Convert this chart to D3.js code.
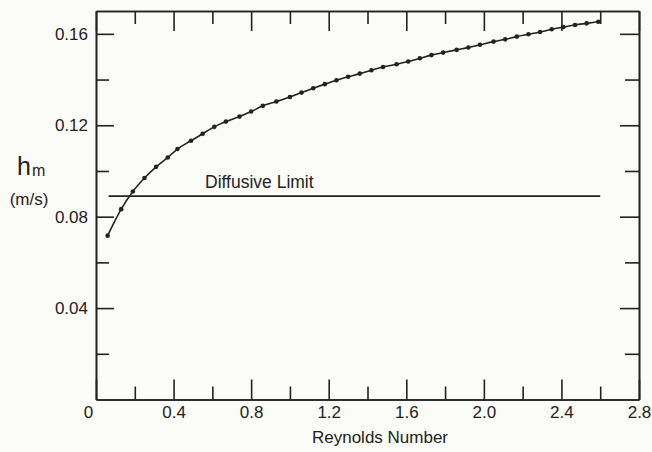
<!DOCTYPE html>
<html>
<head>
<meta charset="utf-8">
<script src="https://cdn.jsdelivr.net/npm/d3@7"></script>
<style>
  body { margin: 0; background: #fbfbf7; }
  svg { display: block; font-family: "Liberation Sans", Arial, sans-serif; }
  .axis path, .axis line { stroke: #222; stroke-width: 1.6; }
  .axis text { font-size: 17px; fill: #222; }
</style>
</head>
<body>
<div id="chart-area"></div>
<script>
// SVG Size
var width = 652,
	height = 452;

// Data
var reynolds = [0.06, 0.13, 0.19, 0.25, 0.31, 0.37, 0.42, 0.49, 0.55, 0.61, 0.67, 0.74,
	0.80, 0.86, 0.93, 1.00, 1.06, 1.12, 1.18, 1.24, 1.30, 1.36, 1.42, 1.48, 1.55, 1.61,
	1.67, 1.73, 1.79, 1.86, 1.92, 1.98, 2.05, 2.11, 2.17, 2.23, 2.29, 2.35, 2.41, 2.47,
	2.53, 2.59];
var hm = [0.0717, 0.0833, 0.0910, 0.0969, 0.1018, 0.1059, 0.1096, 0.1132, 0.1163, 0.1193,
	0.1216, 0.1238, 0.1260, 0.1285, 0.1304, 0.1324, 0.1343, 0.1362, 0.1380, 0.1397,
	0.1412, 0.1426, 0.1441, 0.1455, 0.1467, 0.1479, 0.1493, 0.1507, 0.1518, 0.1530,
	0.1540, 0.1552, 0.1566, 0.1576, 0.1588, 0.1598, 0.1608, 0.1620, 0.1630, 0.1639,
	0.1646, 0.1653];
var diffusiveX = [0.065, 2.6];
var diffusiveY = 0.089;

var xMajor = [0, 0.4, 0.8, 1.2, 1.6, 2.0, 2.4, 2.8];
var xMinor = [0.2, 0.6, 1.0, 1.4, 1.8, 2.2, 2.6];
var yMajor = [0.04, 0.08, 0.12, 0.16];
var yMinor = [0.02, 0.06, 0.10, 0.14];

var data = reynolds.map(function(r, i){ return {x: r, y: hm[i]}; });

var svg = d3.select("#chart-area")
		.append("svg")
		.attr("width", width)
		.attr("height", height);

var xScale = d3.scaleLinear().domain([0, 2.8]).range([96, 639]);
var yScale = d3.scaleLinear().domain([0, 0.17]).range([399.5, 11]);

var x0 = xScale.range()[0], x1 = xScale.range()[1];
var y0 = yScale.range()[0], y1 = yScale.range()[1];

// x labels: plain "0" at the origin, one decimal elsewhere
function xFmt(d){
	return d === 0 ? "0" : d3.format(".1f")(d);
}

// major / minor ticks on all four sides, pointing inward
svg.append("g").attr("class", "axis")
		.attr("transform", "translate(0," + y0 + ")")
		.call(d3.axisBottom(xScale).tickValues(xMajor).tickSize(-20).tickSizeOuter(0).tickPadding(6)
			.tickFormat(xFmt));
svg.append("g").attr("class", "axis")
		.attr("transform", "translate(0," + y0 + ")")
		.call(d3.axisBottom(xScale).tickValues(xMinor).tickSize(-13).tickSizeOuter(0).tickFormat(""));
svg.append("g").attr("class", "axis")
		.attr("transform", "translate(0," + y1 + ")")
		.call(d3.axisTop(xScale).tickValues(xMajor).tickSize(-20).tickSizeOuter(0).tickFormat(""));
svg.append("g").attr("class", "axis")
		.attr("transform", "translate(0," + y1 + ")")
		.call(d3.axisTop(xScale).tickValues(xMinor).tickSize(-13).tickSizeOuter(0).tickFormat(""));

svg.append("g").attr("class", "axis")
		.attr("transform", "translate(" + x0 + ",0)")
		.call(d3.axisLeft(yScale).tickValues(yMajor).tickSize(-18).tickSizeOuter(0).tickPadding(8)
			.tickFormat(d3.format(".2f")));
svg.append("g").attr("class", "axis")
		.attr("transform", "translate(" + x0 + ",0)")
		.call(d3.axisLeft(yScale).tickValues(yMinor).tickSize(-13).tickSizeOuter(0).tickFormat(""));
svg.append("g").attr("class", "axis")
		.attr("transform", "translate(" + x1 + ",0)")
		.call(d3.axisRight(yScale).tickValues(yMajor).tickSize(-19).tickSizeOuter(0).tickFormat(""));
svg.append("g").attr("class", "axis")
		.attr("transform", "translate(" + x1 + ",0)")
		.call(d3.axisRight(yScale).tickValues(yMinor).tickSize(-14).tickSizeOuter(0).tickFormat(""));

// origin label sits a little left of the corner
svg.selectAll(".axis .tick text")
		.filter(function(d){ return d === 0; })
		.attr("x", -8);

// diffusive limit line
svg.append("line")
		.attr("x1", xScale(diffusiveX[0]))
		.attr("x2", xScale(diffusiveX[1]))
		.attr("y1", yScale(diffusiveY))
		.attr("y2", yScale(diffusiveY))
		.attr("stroke", "#222")
		.attr("stroke-width", 1.6);
svg.append("text").text("Diffusive Limit")
		.attr("x", 205)
		.attr("y", 188)
		.attr("font-size", 17.5)
		.attr("fill", "#222");

// mass transfer coefficient curve
var line = d3.line()
		.x(function(d){ return xScale(d.x); })
		.y(function(d){ return yScale(d.y); })
		.curve(d3.curveMonotoneX);
svg.append("path")
		.datum(data)
		.attr("d", line)
		.attr("fill", "none")
		.attr("stroke", "#222")
		.attr("stroke-width", 1.6);
svg.selectAll("circle")
		.data(data)
		.enter()
		.append("circle")
		.attr("cx", function(d){ return xScale(d.x); })
		.attr("cy", function(d){ return yScale(d.y); })
		.attr("r", 2.3)
		.attr("fill", "#222");

// axis names
svg.append("text").text("Reynolds Number")
		.attr("x", 380)
		.attr("y", 443)
		.attr("text-anchor", "middle")
		.attr("font-size", 17)
		.attr("fill", "#222");
var hLabel = svg.append("text").attr("x", 17).attr("y", 175).attr("fill", "#222");
hLabel.append("tspan").text("h").attr("font-size", 25);
hLabel.append("tspan").text("m").attr("font-size", 16).attr("dx", 1).attr("dy", 1);
svg.append("text").text("(m/s)")
		.attr("x", 29)
		.attr("y", 205)
		.attr("text-anchor", "middle")
		.attr("font-size", 17)
		.attr("fill", "#222");
</script>
</body>
</html>
